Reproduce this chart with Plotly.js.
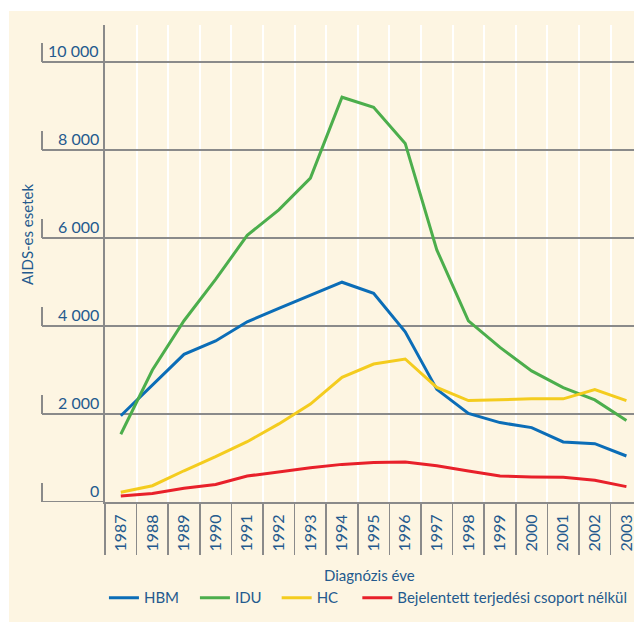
<!DOCTYPE html>
<html>
<head>
<meta charset="utf-8">
<script src="https://cdn.plot.ly/plotly-3.0.1.min.js"></script>
<style>
  html, body { margin: 0; padding: 0; background: #ffffff; width: 634px; height: 622px; overflow: hidden; }
  #chart { position: absolute; left: 9px; top: 11px; width: 625px; height: 611px; }
</style>
</head>
<body>
<div id="chart"></div>
<script>
// ---- Data ----
const years = ["1987","1988","1989","1990","1991","1992","1993","1994","1995","1996","1997","1998","1999","2000","2001","2002","2003"];
const hbm = [1960, 2660, 3355, 3660, 4095, 4400, 4705, 4995, 4745, 3870, 2560, 2015, 1805, 1690, 1365, 1325, 1045];
const idu = [1540, 3000, 4120, 5060, 6060, 6640, 7360, 9200, 8970, 8150, 5730, 4115, 3515, 2980, 2600, 2320, 1850];
const hc  = [220, 370, 710, 1030, 1370, 1775, 2225, 2835, 3135, 3250, 2605, 2305, 2325, 2345, 2345, 2555, 2305];
const ukn = [135, 195, 310, 400, 590, 690, 780, 855, 900, 910, 825, 705, 590, 570, 560, 495, 350];
const seriesNames = ["HBM", "IDU", "HC", "Bejelentett terjedési csoport nélkül"];
const yTicks = [0, 2000, 4000, 6000, 8000, 10000];
const yTickLabels = ["0", "2 000", "4 000", "6 000", "8 000", "10 000"];
const yTitle = "AIDS-es esetek";
const xTitle = "Diagnózis éve";

// ---- Styling ----
const TEXT = "#245a8e";
const GRID = "#8a8a8a";
const BG = "#fdf5e2";
const FONT = "Lato, 'Open Sans', sans-serif";
const colors = ["#0b6db7", "#4cae4c", "#f4cc1e", "#e8202a"];
const seriesData = [hbm, idu, hc, ukn];
const legendIds = ["legend", "legend2", "legend3", "legend4"];
const legendX = [-0.002, 0.170, 0.3245, 0.477];

const traces = seriesData.map((d, i) => ({
  type: "scatter",
  mode: "lines",
  x: years,
  y: d,
  name: seriesNames[i],
  legend: legendIds[i],
  line: { color: colors[i], width: 3 },
  hoverinfo: "skip"
}));

const shapes = [];
const annotations = [];
yTicks.forEach((v, i) => {
  shapes.push({ type: "line", xref: "paper", yref: "y", xsizemode: "pixel", xanchor: 0,
    x0: -63, x1: 0, y0: v, y1: v, line: { color: GRID, width: 2 }, layer: "below" });
  shapes.push({ type: "line", xref: "paper", yref: "y", xsizemode: "pixel", xanchor: 0,
    ysizemode: "pixel", yanchor: v, x0: -63, x1: -63, y0: 0, y1: 19,
    line: { color: GRID, width: 2 }, layer: "below" });
  annotations.push({ xref: "paper", yref: "y", x: 0, y: v, xanchor: "right", yanchor: "bottom",
    xshift: -4, yshift: 0, text: yTickLabels[i], showarrow: false,
    font: { family: FONT, size: 16, color: TEXT } });
});
annotations.push({ xref: "paper", yref: "paper", x: 0, y: 0.56, xshift: -78, textangle: -90,
  xanchor: "center", yanchor: "middle", text: yTitle, showarrow: false,
  font: { family: FONT, size: 15, color: TEXT } });
annotations.push({ xref: "paper", yref: "paper", x: 0.5, y: 0, yshift: -73,
  xanchor: "center", yanchor: "middle", text: xTitle, showarrow: false,
  font: { family: FONT, size: 15, color: TEXT } });

const layout = {
  width: 625, height: 611,
  margin: { l: 96, r: 0, t: 14, b: 120 },
  paper_bgcolor: BG,
  plot_bgcolor: BG,
  font: { family: FONT, color: TEXT, size: 15 },
  showlegend: true,
  xaxis: {
    type: "category",
    range: [-0.5, 16.24],
    showline: true, linecolor: GRID, linewidth: 2,
    showgrid: true, gridcolor: "#ffffff", gridwidth: 2,
    tickson: "boundaries",
    ticks: "outside", ticklen: 51, tickcolor: GRID, tickwidth: 1.5,
    tickangle: -90,
    ticklabelstandoff: 4,
    tickfont: { family: FONT, size: 16, color: TEXT },
    zeroline: false,
    fixedrange: true
  },
  yaxis: {
    range: [0, 10841],
    tickvals: yTicks,
    showticklabels: false,
    ticks: "",
    showline: true, linecolor: GRID, linewidth: 2,
    showgrid: true, gridcolor: GRID, gridwidth: 2,
    zeroline: false,
    fixedrange: true
  },
  shapes: shapes,
  annotations: annotations,
  hovermode: false
};
legendIds.forEach((id, i) => {
  layout[id] = { orientation: "h", x: legendX[i], xanchor: "left", y: -0.201, yanchor: "middle",
    font: { family: FONT, size: 15, color: TEXT }, bgcolor: "rgba(0,0,0,0)" };
});

Plotly.newPlot("chart", traces, layout, { displayModeBar: false, staticPlot: true });
</script>
</body>
</html>
